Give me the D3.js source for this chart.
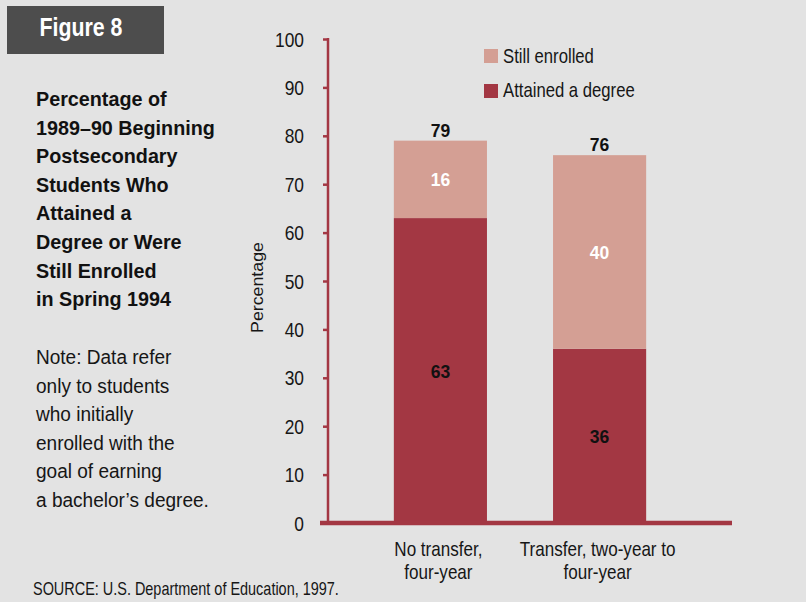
<!DOCTYPE html>
<html><head><meta charset="utf-8">
<script src="https://cdn.jsdelivr.net/npm/d3@7"></script>
<style>
html,body{margin:0;padding:0;background:#e3e3e3;}
svg{display:block;}
text{font-family:"Liberation Sans",Arial,Helvetica,sans-serif;}
</style></head>
<body>
<svg id="chart" width="806" height="602"></svg>
<script>
const categories = [["No transfer,", "four-year"], ["Transfer, two-year to", "four-year"]];
const categoryKeys = ["No transfer", "Transfer"];
const attained = [63, 36];
const stillEnrolled = [16, 40];
const totals = [79, 76];
const seriesNames = ["Still enrolled", "Attained a degree"];
const yTicks = [0, 10, 20, 30, 40, 50, 60, 70, 80, 90, 100];
const titleLines = ["Percentage of", "1989–90 Beginning", "Postsecondary", "Students Who", "Attained a", "Degree or Were", "Still Enrolled", "in Spring 1994"];
const noteLines = ["Note: Data refer", "only to students", "who initially", "enrolled with the", "goal of earning", "a bachelor’s degree."];
const sourceText = "SOURCE: U.S. Department of Education, 1997.";
const figureLabel = "Figure 8";
const yTitle = "Percentage";

const dark = "#a33743", light = "#d49f94", ink = "#161616";
const svg = d3.select("#chart");

function measure(str, size, weight) {
  const t = svg.append("text").attr("font-size", size).attr("font-weight", weight).text(str);
  const w = t.node().getComputedTextLength();
  t.remove();
  return w;
}
function kFor(str, size, weight, target) { return target / measure(str, size, weight); }

function ctext(parent, x, y, str, size, weight, anchor, k, fill, rot) {
  return parent.append("text")
    .attr("transform", `translate(${x},${y})${rot ? ` rotate(${rot})` : ""} scale(${k},1)`)
    .attr("font-size", size).attr("font-weight", weight).attr("text-anchor", anchor || "start")
    .attr("fill", fill || ink).text(str);
}

svg.append("rect").attr("x",0).attr("y",0).attr("width",806).attr("height",602).attr("fill","#e3e3e3");

svg.append("rect").attr("x",7).attr("y",6).attr("width",157).attr("height",48).attr("fill","#4d4d4d");
ctext(svg, 39.5, 35.7, figureLabel, 26.5, "bold", "start", kFor(figureLabel, 26.5, "bold", 83), "#fff");

const kTitle = kFor("1989–90 Beginning", 20, "bold", 179);
titleLines.forEach((s,i)=> ctext(svg, 36, 106+i*28.6, s, 20, "bold", "start", kTitle, "#111"));
const kNote = kFor("a bachelor’s degree.", 20, "normal", 173);
noteLines.forEach((s,i)=> ctext(svg, 36, 364.3+i*28.5, s, 20, "normal", "start", kNote, ink));
ctext(svg, 33, 595, sourceText, 18, "normal", "start", kFor(sourceText, 18, "normal", 306), ink);

const y = d3.scaleLinear().domain([0,100]).range([523,39]);
const x = d3.scaleBand().domain(categoryKeys).range([362,678]).paddingInner(0.415).paddingOuter(0.2);

const kTick = kFor("100", 20, "normal", 29);
const yAxis = d3.axisLeft(y).tickValues(yTicks).tickSize(5).tickPadding(19);
const yg = svg.append("g").attr("transform","translate(328,0)").call(yAxis);
yg.attr("font-family", null).attr("font-size", null);
yg.select(".domain").attr("stroke",dark).attr("stroke-width",2.5).attr("d","M0,523V38");
yg.selectAll(".tick line").attr("stroke",dark).attr("stroke-width",2.5);
yg.selectAll(".tick text")
  .attr("x", null).attr("dy", null)
  .attr("transform", `translate(-24,7) scale(${kTick},1)`)
  .attr("font-size",20).attr("fill",ink).attr("text-anchor","end");

ctext(svg, 263, 287.5, yTitle, 16.5, "normal", "middle", kFor(yTitle, 16.5, "normal", 91), ink, -90);

const data = categoryKeys.map((k,i)=>({k, a:attained[i], s:stillEnrolled[i], t:totals[i]}));
const bars = svg.append("g");
bars.selectAll(".att").data(data).join("rect").attr("class","att")
  .attr("x",d=>x(d.k)).attr("width",x.bandwidth())
  .attr("y",d=>y(d.a)).attr("height",d=>y(0)-y(d.a)).attr("fill",dark);
bars.selectAll(".se").data(data).join("rect").attr("class","se")
  .attr("x",d=>x(d.k)).attr("width",x.bandwidth())
  .attr("y",d=>y(d.a+d.s)).attr("height",d=>y(d.a)-y(d.a+d.s)).attr("fill",light);

svg.append("line").attr("x1",320).attr("x2",732).attr("y1",y(0)).attr("y2",y(0)).attr("stroke",dark).attr("stroke-width",4.5);

const kVal = kFor("79", 19, "bold", 19.5);
data.forEach(d=>{
  const cx = x(d.k)+x.bandwidth()/2;
  ctext(svg, cx, y(d.a/2)+7, String(d.a), 19, "bold", "middle", kVal, "#111");
  ctext(svg, cx, y(d.a+d.s/2)+7, String(d.s), 19, "bold", "middle", kVal, "#fff");
  ctext(svg, cx, y(d.t)-4, String(d.t), 19, "bold", "middle", kVal, "#111");
});

const kCat = kFor("Transfer, two-year to", 20, "normal", 156);
categoryKeys.forEach((k,i)=>{
  const cx = x(k)+x.bandwidth()/2 - 2;
  categories[i].forEach((line,j)=> ctext(svg, cx, 556+j*22.5, line, 20, "normal", "middle", kCat, ink));
});

const kLeg = kFor("Still enrolled", 20, "normal", 91);
[light, dark].forEach((c,i)=>{
  svg.append("rect").attr("x",484).attr("y",49+i*35).attr("width",14).attr("height",14).attr("fill",c);
  ctext(svg, 503, 63+i*34, seriesNames[i], 20, "normal", "start", kLeg, ink);
});
</script>
</body></html>
